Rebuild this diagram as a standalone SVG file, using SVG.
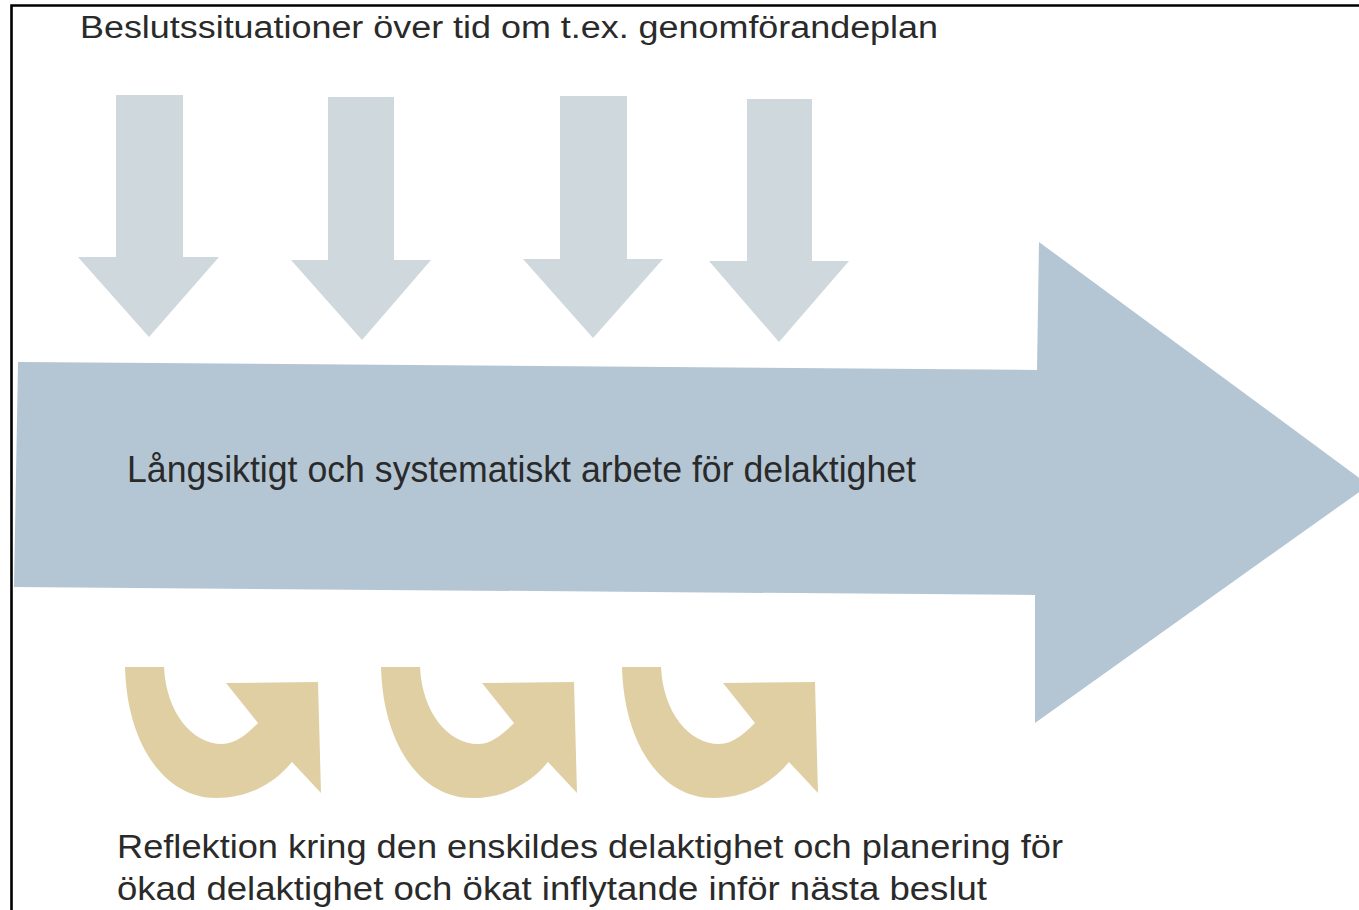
<svg xmlns="http://www.w3.org/2000/svg" width="1359" height="910" viewBox="0 0 1359 910">
  <style>
    .txt { font-family: "Liberation Sans", Arial, sans-serif; fill: #2a2a2a; }
    .down { fill: #cfd8dd; }
    .main { fill: #b4c6d4; }
    .curl { fill: #dfcfa3; }
  </style>
  <defs>
    <path id="curl" d="M125,667 L164,667 C166,712 192,744 222,744 C236,744 248,733 258,723 L226,683 L318,682 L321,793 L292,762 C274,784 248,798 216,798 C165,798 127,745 125,667 Z"/>
  </defs>
  <rect x="0" y="0" width="1359" height="910" fill="#ffffff"/>
  <g id="frame">
    <path d="M11.5,910 L11.5,5.5 L1359,5.5" fill="none" stroke="#000000" stroke-width="2.6"/>
  </g>
  <g id="title">
    <text class="txt" x="80" y="38" font-size="31" textLength="858" lengthAdjust="spacingAndGlyphs">Beslutssituationer över tid om t.ex. genomförandeplan</text>
  </g>
  <g id="decision-arrows">
    <polygon class="down" points="116,95 183,95 183,257 219,257 149,337 78,257 116,257"/>
    <polygon class="down" points="328,97 394,97 394,260 431,260 362,340 291,260 328,260"/>
    <polygon class="down" points="560,96 627,96 627,259 663,259 593,338 523,259 560,259"/>
    <polygon class="down" points="747,99 812,99 812,261 849,261 779,342 709,261 747,261"/>
  </g>
  <g id="main-arrow">
    <polygon class="main" points="18,362 1037,370 1039,242 1369,485 1035,723 1035,595 14,587"/>
    <text class="txt" x="127" y="482" font-size="36" textLength="789" lengthAdjust="spacingAndGlyphs">Långsiktigt och systematiskt arbete för delaktighet</text>
  </g>
  <g id="reflection-arrows">
    <use href="#curl" class="curl"/>
    <use href="#curl" class="curl" transform="translate(256,0)"/>
    <use href="#curl" class="curl" transform="translate(497,0)"/>
  </g>
  <g id="reflection-text">
    <text class="txt" x="117" y="858" font-size="34" textLength="946" lengthAdjust="spacingAndGlyphs">Reflektion kring den enskildes delaktighet och planering för</text>
    <text class="txt" x="117" y="900" font-size="34" textLength="870" lengthAdjust="spacingAndGlyphs">ökad delaktighet och ökat inflytande inför nästa beslut</text>
  </g>
</svg>
